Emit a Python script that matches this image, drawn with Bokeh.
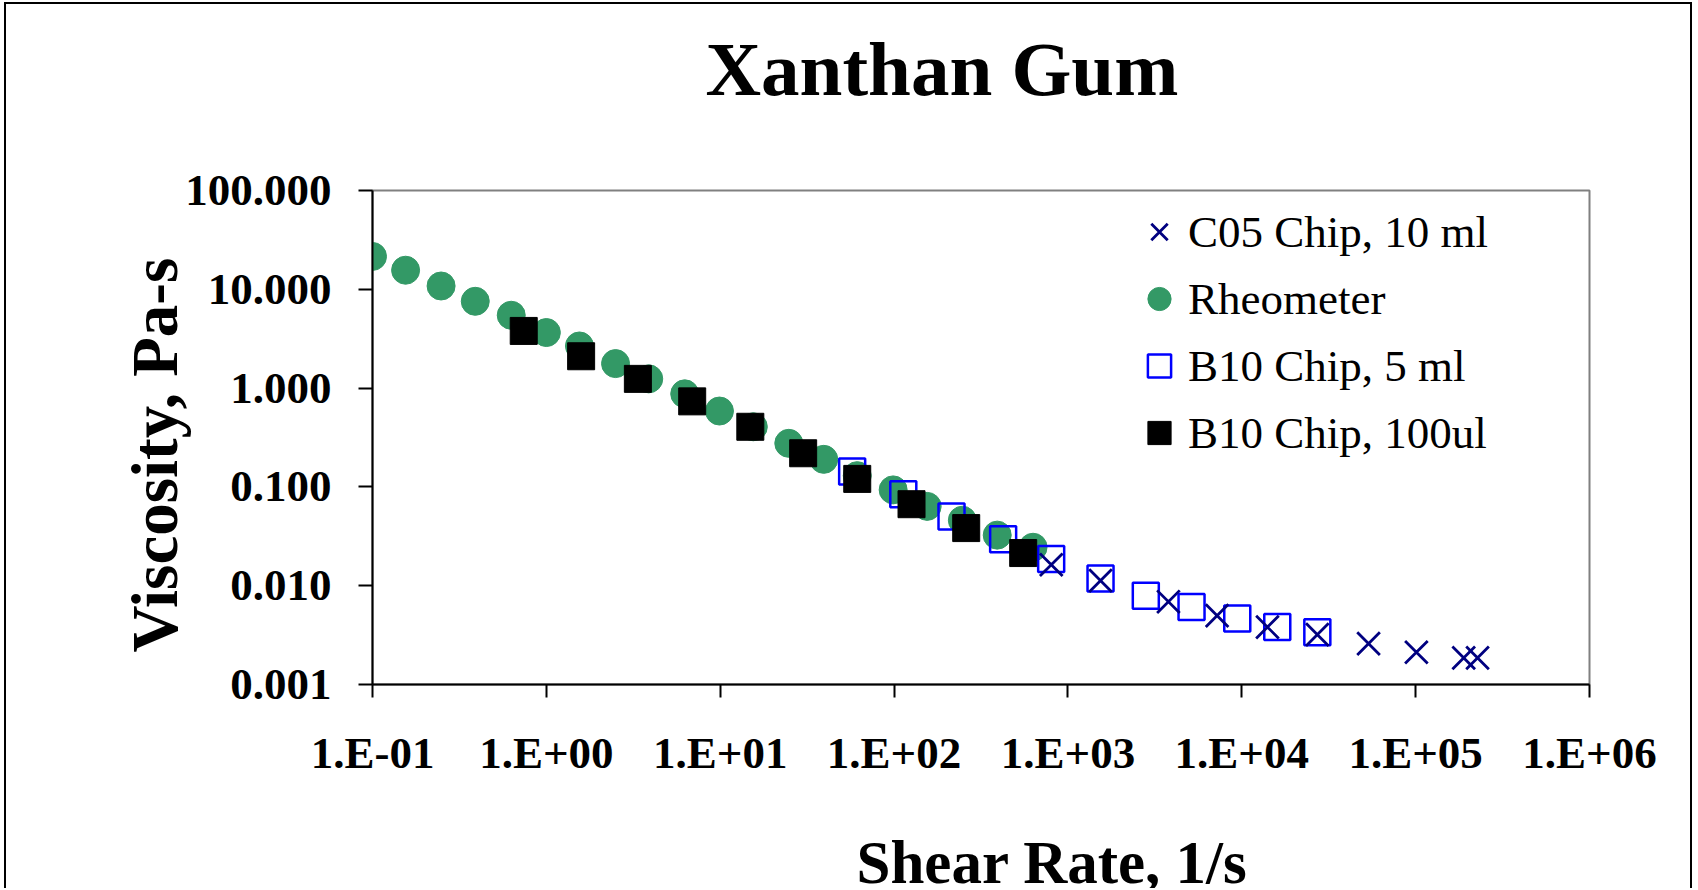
from bokeh.plotting import figure
from bokeh.models import (FixedTicker, Range1d, Legend, LegendItem, Title)
from bokeh.embed import file_html
from bokeh.resources import INLINE

# ---------------- data ----------------
title_text = "Xanthan Gum"
x_label = "Shear Rate, 1/s"
y_label = "Viscosity, Pa-s"

x_ticks = [0.1, 1.0, 10.0, 100.0, 1000.0, 10000.0, 100000.0, 1000000.0]
x_tick_labels = ["1.E-01", "1.E+00", "1.E+01", "1.E+02", "1.E+03", "1.E+04", "1.E+05", "1.E+06"]
y_ticks = [0.001, 0.01, 0.1, 1.0, 10.0, 100.0]
y_tick_labels = ["0.001", "0.010", "0.100", "1.000", "10.000", "100.000"]

series_names = ["C05 Chip, 10 ml", "Rheometer", "B10 Chip, 5 ml", "B10 Chip, 100ul"]

c05_x = [802, 1540, 3785, 7210, 14050, 27200, 53600, 101000, 189000, 227000]
c05_y = [0.0163, 0.01125, 0.00689, 0.00498, 0.00381, 0.0032, 0.00259, 0.00212, 0.00186, 0.00186]

rheo_x = [0.1, 0.155, 0.248, 0.39, 0.628, 1.0, 1.55, 2.5, 3.88, 6.25,
          9.9, 15.5, 24.8, 39.4, 61.4, 98.8, 155, 247, 392, 630]
rheo_y = [21.5, 15.6, 10.8, 7.56, 5.46, 3.65, 2.67, 1.77, 1.24, 0.875,
          0.586, 0.406, 0.276, 0.190, 0.130, 0.0933, 0.0635, 0.0460, 0.0325, 0.0245]

b5_x = [57.4, 113, 214, 424, 801, 1540, 2805, 5140, 9420, 16000, 27200]
b5_y = [0.143, 0.0843, 0.0501, 0.0296, 0.0186, 0.0118, 0.0079, 0.0061, 0.00465, 0.00383, 0.00338]

b100_x = [0.741, 1.585, 3.36, 6.90, 14.9, 30.0, 61.4, 126, 260, 553]
b100_y = [3.79, 2.10, 1.24, 0.734, 0.406, 0.219, 0.1205, 0.0668, 0.0383, 0.0214]

# ---------------- styling ----------------
SERIF = "Liberation Serif"
GREEN = "#339966"
NAVY = "#000080"
BLUE = "#0000FF"

W, H = 1688, 886
p = figure(width=W, height=H, x_axis_type="log", y_axis_type="log",
           x_range=Range1d(0.1, 1e6), y_range=Range1d(0.001, 100),
           output_backend="svg", toolbar_location=None,
           min_border_left=366, min_border_right=105,
           min_border_top=186, min_border_bottom=205,
           background_fill_color="white", border_fill_color="white",
           styles={"border-left": "2px solid black",
                   "border-top": "2px solid black",
                   "border-right": "2px solid black",
                   "margin-left": "4px", "margin-top": "2px"})

p.xgrid.visible = False
p.ygrid.visible = False
p.outline_line_color = "#808080"
p.outline_line_width = 2

p.xaxis.ticker = FixedTicker(ticks=x_ticks)
p.yaxis.ticker = FixedTicker(ticks=y_ticks)
p.xaxis.major_label_overrides = {t: l for t, l in zip(x_ticks, x_tick_labels)}
p.yaxis.major_label_overrides = {t: l for t, l in zip(y_ticks, y_tick_labels)}

for ax in (p.xaxis[0], p.yaxis[0]):
    ax.axis_line_color = "black"
    ax.axis_line_width = 2
    ax.major_tick_line_color = "black"
    ax.major_tick_line_width = 2
    ax.major_tick_in = 0
    ax.minor_tick_line_color = None
    ax.major_label_text_font = SERIF
    ax.major_label_text_font_style = "bold"
    ax.major_label_text_font_size = "45px"
    ax.major_label_text_color = "black"

p.xaxis.major_tick_out = 13
p.yaxis.major_tick_out = 14
p.xaxis.major_label_standoff = 30
p.yaxis.major_label_standoff = 27

# ---------------- series ----------------
r_rheo = p.scatter(rheo_x, rheo_y, marker="circle", size=28,
                   fill_color=GREEN, line_color=GREEN)
r_b5 = p.scatter(b5_x, b5_y, marker="square", size=26,
                 fill_color=None, line_color=BLUE, line_width=2.5)
r_c05 = p.scatter(c05_x, c05_y, marker="x", size=32,
                  line_color=NAVY, line_width=2.8)
r_b100 = p.scatter(b100_x, b100_y, marker="square", size=27,
                   fill_color="black", line_color="black")

legend = Legend(items=[
    LegendItem(label=series_names[0], renderers=[r_c05]),
    LegendItem(label=series_names[1], renderers=[r_rheo]),
    LegendItem(label=series_names[2], renderers=[r_b5]),
    LegendItem(label=series_names[3], renderers=[r_b100]),
], location=(758, 219))
legend.border_line_color = None
legend.background_fill_alpha = 0
legend.padding = 0
legend.margin = 0
legend.spacing = 2
legend.glyph_width = 58
legend.glyph_height = 65
legend.label_standoff = 0
legend.label_text_font = SERIF
legend.label_text_font_size = "45px"
legend.label_text_color = "black"
p.add_layout(legend)

# ---------------- titles ----------------
# spacer between frame and main title
p.add_layout(Title(text=" ", text_font_size="1px", standoff=76), "above")
p.title = Title(text=title_text, text_font=SERIF, text_font_style="bold",
                text_font_size="77px", align="left", offset=333,
                vertical_align="bottom", standoff=0, text_color="black")
p.title_location = "above"

# x axis label: spacer then title
p.add_layout(Title(text=" ", text_font_size="1px", standoff=51.7), "below")
p.add_layout(Title(text=x_label, text_font=SERIF, text_font_style="bold",
                   text_font_size="61px", align="left", offset=484,
                   vertical_align="top", standoff=-14, text_color="black"), "below")

# y axis label
p.add_layout(Title(text=y_label, text_font=SERIF, text_font_style="bold",
                   text_font_size="65px", align="left", offset=32,
                   vertical_align="bottom", standoff=-16, text_color="black"), "left")

open("out.html", "w").write(file_html(p, INLINE))
